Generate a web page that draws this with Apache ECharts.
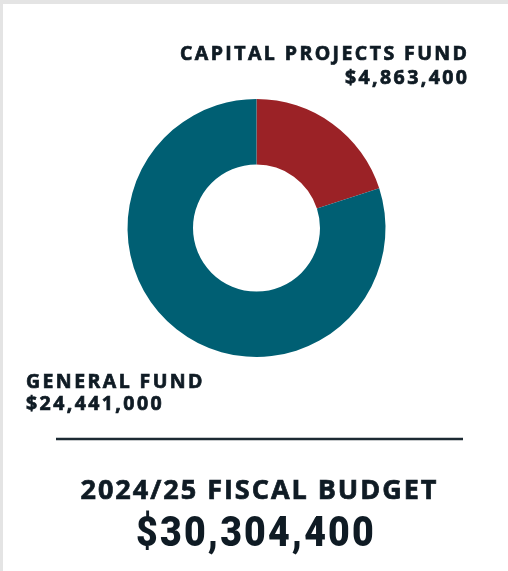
<!DOCTYPE html>
<html>
<head>
<meta charset="utf-8">
<script src="https://cdn.jsdelivr.net/npm/echarts@6/dist/echarts.min.js"></script>
<style>
html,body{margin:0;padding:0;background:#e4e4e4;}
#chart{width:508px;height:571px;}
</style>
</head>
<body>
<div id="chart"></div>
<script>
// Data
const categories = ['CAPITAL PROJECTS FUND', 'GENERAL FUND'];
// slice sizes as drawn (red slice spans ~72 deg, i.e. about 20% of the ring)
const sliceValues = [4863400, 19441000];
// amounts printed in the labels
const amountLabels = ['$4,863,400', '$24,441,000'];
const budgetTitle = '2024/25 FISCAL BUDGET';
const budgetTotal = '$30,304,400';
const sliceColors = ['#9b2226', '#005f73'];

const ink = '#0f1b24';
const labelFont = 'bold 19.5px "Open Sans"';
const titleFont = 'bold 27px "Open Sans"';
const totalFont = '900 42px Roboto, "Liberation Sans", sans-serif';

// --- letter spacing support (canvas native letterSpacing, per text string) ---
const measureCtx = document.createElement('canvas').getContext('2d');
function textWidth(t, font) { measureCtx.font = font; measureCtx.letterSpacing = '0px'; return measureCtx.measureText(t).width; }
function spacingFor(t, font, target) { return Math.max(0, (target - textWidth(t, font)) / (t.length - 1)); }
const spacingMap = {};
const labelSpacing = spacingFor(categories[0], labelFont, 287);
spacingMap[categories[0]] = labelSpacing;
spacingMap[categories[1]] = labelSpacing;
spacingMap[amountLabels[0]] = labelSpacing;
spacingMap[amountLabels[1]] = labelSpacing;
const titleSpacing = spacingFor(budgetTitle, titleFont, 356);
spacingMap[budgetTitle] = titleSpacing;
const totalScale = 216 / textWidth(budgetTotal, totalFont);

function patch(name) {
  const orig = CanvasRenderingContext2D.prototype[name];
  CanvasRenderingContext2D.prototype[name] = function (t, x, y, w) {
    const s = spacingMap[t];
    if (s && 'letterSpacing' in this) {
      const prev = this.letterSpacing;
      this.letterSpacing = s + 'px';
      let dx = 0;
      if (this.textAlign === 'right' || this.textAlign === 'end') dx = s;
      else if (this.textAlign === 'center') dx = s / 2;
      const r = w === undefined ? orig.call(this, t, x + dx, y) : orig.call(this, t, x + dx, y, w);
      this.letterSpacing = prev;
      return r;
    }
    return w === undefined ? orig.call(this, t, x, y) : orig.call(this, t, x, y, w);
  };
}
patch('fillText');
patch('strokeText');

const chart = echarts.init(document.getElementById('chart'), null, {renderer: 'canvas'});

function txt(x, y, text, font, align, extra) {
  return Object.assign({type: 'text', x: x, y: y, style: {
    text: text, font: font, fill: ink, stroke: ink, lineWidth: 0.7,
    textAlign: align, textVerticalAlign: 'middle'
  }}, extra || {});
}

const option = {
  backgroundColor: '#e4e4e4',
  animation: false,
  graphic: [
    {type: 'rect', z: -10, shape: {x: 3, y: 4, width: 505, height: 567}, style: {fill: '#ffffff'}},
    txt(467, 54.5, categories[0], labelFont, 'right'),
    txt(467, 78, amountLabels[0], labelFont, 'right'),
    txt(26, 382, categories[1], labelFont, 'left'),
    txt(26, 404, amountLabels[1], labelFont, 'left'),
    {type: 'line', shape: {x1: 56, y1: 439, x2: 463, y2: 439}, style: {stroke: '#1c2a33', lineWidth: 2.5}},
    txt(258.5, 491.5, budgetTitle, titleFont, 'center'),
    {type: 'text', x: 256, y: 535, scaleX: totalScale, style: {text: budgetTotal, font: totalFont, fill: ink, textAlign: 'center', textVerticalAlign: 'middle'}}
  ],
  series: [{
    type: 'pie',
    center: [256.5, 228],
    radius: [63.5, 129],
    startAngle: 90,
    clockwise: true,
    label: {show: false},
    labelLine: {show: false},
    emphasis: {disabled: true},
    itemStyle: {borderWidth: 0},
    data: categories.map((c, i) => ({name: c, value: sliceValues[i], itemStyle: {color: sliceColors[i]}}))
  }]
};
chart.setOption(option);
</script>
</body>
</html>
